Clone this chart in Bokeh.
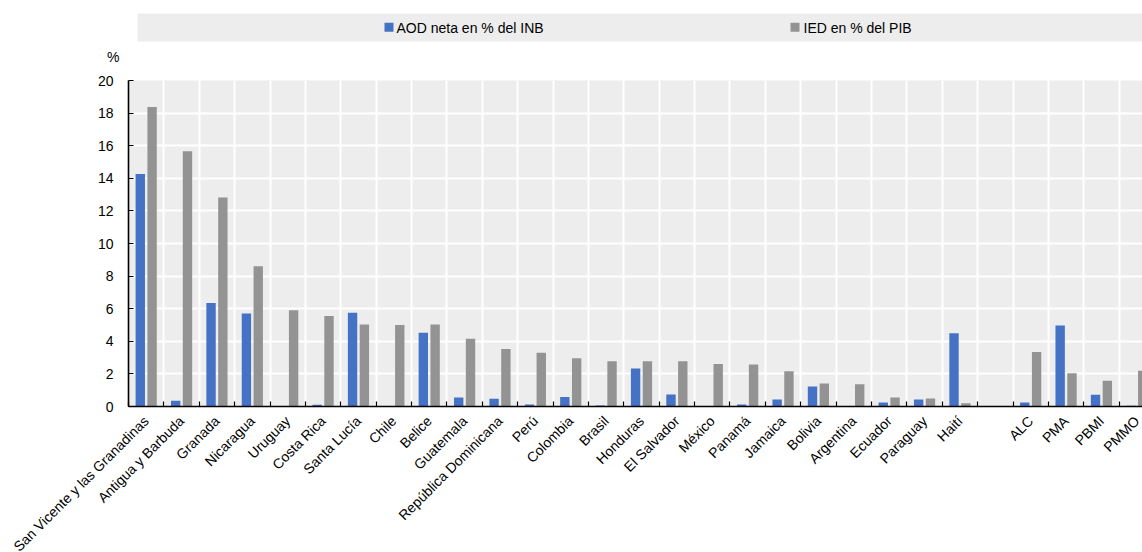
import math

from bokeh.core.properties import value
from bokeh.embed import file_html
from bokeh.layouts import column
from bokeh.models import ColumnDataSource, FixedTicker, LinearAxis, Range1d
from bokeh.plotting import figure
from bokeh.resources import INLINE

# Countries, then the regional / income-group aggregates (shown after a gap)
countries = [
    "San Vicente y las Granadinas", "Antigua y Barbuda", "Granada", "Nicaragua",
    "Uruguay", "Costa Rica", "Santa Lucía", "Chile", "Belice", "Guatemala",
    "República Dominicana", "Perú", "Colombia", "Brasil", "Honduras",
    "El Salvador", "México", "Panamá", "Jamaica", "Bolivia", "Argentina",
    "Ecuador", "Paraguay", "Haití",
]
groups = ["ALC", "PMA", "PBMI", "PMMO"]

# AOD neta en % del INB
aod_countries = [14.27, 0.35, 6.35, 5.70, 0.0, 0.10, 5.75, 0.0, 4.52, 0.55,
                 0.47, 0.12, 0.59, 0.06, 2.33, 0.74, 0.0, 0.12, 0.43, 1.23,
                 0.0, 0.25, 0.43, 4.50]
aod_groups = [0.25, 4.97, 0.72, 0.05]

# IED en % del PIB
ied_countries = [18.38, 15.66, 12.82, 8.60, 5.90, 5.55, 5.03, 5.00, 5.03, 4.15,
                 3.52, 3.29, 2.96, 2.78, 2.78, 2.78, 2.60, 2.58, 2.17, 1.41,
                 1.37, 0.55, 0.49, 0.20]
ied_groups = [3.35, 2.04, 1.58, 2.20]

y_ticks = [0, 2, 4, 6, 8, 10, 12, 14, 16, 18, 20]

FONT = "Liberation Sans"
BLUE = "#4472c4"
GREY = "#939393"
PANEL = "#ededed"

# slot positions: one empty slot separates countries from aggregates
labels = countries + groups
slots = list(range(len(countries))) + [len(countries) + 1 + k for k in range(len(groups))]
n_slots = len(countries) + 1 + len(groups)
aod = aod_countries + aod_groups
ied = ied_countries + ied_groups

src = ColumnDataSource(dict(
    x_aod=[s + 0.5 - 0.167 for s in slots],
    x_ied=[s + 0.5 + 0.167 for s in slots],
    aod=aod,
    ied=ied,
))

LEFT = 128          # left edge of the plotting frame, px
FRAME_W = 1014
FRAME_H = 326
HEAD_H = 70
slot_px = 35.38

# ---- header strip: legend band + unit label (frame aligned with chart) ------
head = figure(frame_width=FRAME_W, frame_height=HEAD_H,
              x_range=Range1d(LEFT, LEFT + FRAME_W), y_range=Range1d(HEAD_H, 0),
              x_axis_type=None, y_axis_type=None, toolbar_location=None,
              output_backend="svg", min_border=0, min_border_left=LEFT,
              outline_line_color=None)
head.grid.visible = False
head.quad(left=137, right=LEFT + FRAME_W, top=13, bottom=41, fill_color=PANEL, line_color=None)
head.scatter(x=[388.5], y=[26.8], marker="square", size=9, fill_color=BLUE, line_color=None)
head.scatter(x=[794.5], y=[26.8], marker="square", size=9, fill_color=GREY, line_color=None)
head.text(x=[396, 803], y=[27.5, 27.5], text=["AOD neta en % del INB", "IED en % del PIB"],
          text_font=value(FONT), text_font_size="14px", text_color="#000000",
          text_align="left", text_baseline="middle")

# the "%" unit sits on a bare axis of the header, just left of the frame
unit_axis = LinearAxis(ticker=FixedTicker(ticks=[56]), major_label_overrides={56: "%"},
                       axis_line_color=None, major_tick_line_color=None,
                       minor_tick_line_color=None, major_label_standoff=3,
                       major_label_text_font=FONT, major_label_text_font_size="14px",
                       major_label_text_color="#000000")
head.add_layout(unit_axis, "left")

# ---- main bar chart ---------------------------------------------------------
p = figure(frame_width=FRAME_W, frame_height=FRAME_H,
           x_range=Range1d(0, FRAME_W / slot_px), y_range=Range1d(0, 20),
           toolbar_location=None, output_backend="svg",
           min_border_left=LEFT, min_border_right=0, min_border_top=80 - HEAD_H,
           min_border_bottom=10, outline_line_color=None)
p.background_fill_color = PANEL

p.vbar(x="x_aod", top="aod", width=0.265, source=src, fill_color=BLUE, line_color=None)
p.vbar(x="x_ied", top="ied", width=0.265, source=src, fill_color=GREY, line_color=None)

# x axis: labels at slot centres, short inward ticks at slot boundaries
xa = p.xaxis[0]
xa.ticker = FixedTicker(ticks=[s + 0.5 for s in slots],
                        minor_ticks=list(range(0, n_slots + 1)))
xa.major_label_overrides = {s + 0.5: lab for s, lab in zip(slots, labels)}
xa.major_label_orientation = math.pi / 4
xa.major_tick_line_color = None
xa.minor_tick_in = 5
xa.minor_tick_out = 0
xa.minor_tick_line_color = "#000000"
xa.minor_tick_line_width = 1.2
xa.axis_line_color = "#000000"
xa.axis_line_width = 1.6
xa.major_label_text_font = FONT
xa.major_label_text_font_size = "14px"
xa.major_label_text_color = "#000000"
xa.major_label_standoff = 6

ya = p.yaxis[0]
ya.ticker = FixedTicker(ticks=y_ticks)
ya.major_tick_in = 5
ya.major_tick_out = 0
ya.minor_tick_line_color = None
ya.major_tick_line_color = "#000000"
ya.major_tick_line_width = 1.2
ya.axis_line_color = "#000000"
ya.axis_line_width = 1.6
ya.major_label_text_font = FONT
ya.major_label_text_font_size = "14px"
ya.major_label_text_color = "#000000"
ya.major_label_standoff = 15

p.xgrid.ticker = FixedTicker(ticks=list(range(1, n_slots + 1)))
p.xgrid.grid_line_color = "#ffffff"
p.xgrid.grid_line_width = 2
p.ygrid.ticker = FixedTicker(ticks=y_ticks)
p.ygrid.grid_line_color = "#ffffff"
p.ygrid.grid_line_width = 2

layout = column(head, p, spacing=0)
open("out.html", "w").write(file_html(layout, INLINE))
